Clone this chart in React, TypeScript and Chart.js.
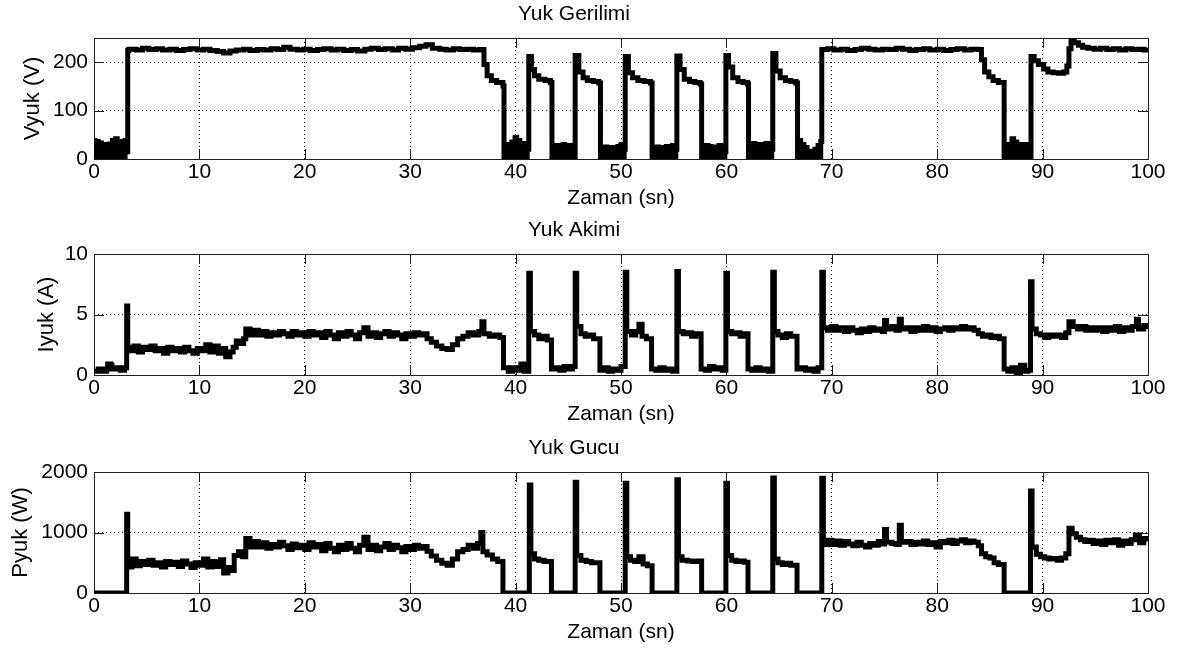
import React, { useEffect, useRef } from 'react';
import { Chart, registerables } from 'chart.js';

Chart.register(...registerables);

const FONT = "'Liberation Sans', Arial, Helvetica, sans-serif";

// ---------- shared axis ----------
const X_MIN = 0;
const X_MAX = 100;
const X_STEP = 10;
const X_LABEL = 'Zaman (sn)';

// ---------- Yuk Gerilimi (V) ----------
const V_TICKS = [0, 100, 200];
const tV = [
  0, 0.1, 0.25, 0.4, 0.55, 0.7, 0.85, 1.0, 1.15, 1.3, 1.45, 1.6, 1.75, 1.9, 2.05, 2.2, 2.35, 2.5, 2.65, 2.8, 2.95, 3.1,
  3.2, 3.3, 4.0, 4.6, 5.2, 5.9, 6.5, 7.2, 7.8, 8.5, 9.1, 9.8, 10.4, 11.0, 11.7, 12.3, 12.9, 13.5, 14.2, 14.8,
  15.5, 16.1, 16.8, 17.4, 18.0, 18.6, 19.3, 19.9, 20.5, 21.2, 21.8, 22.5, 23.1, 23.7, 24.4, 25.0, 25.7, 26.3, 27.0, 27.6,
  28.3, 28.9, 29.6, 30.2, 30.9, 31.5, 32.1, 32.8, 33.4, 34.1, 34.7, 35.4, 36.0, 36.6,
  37.0, 37.3, 37.7, 38.2, 38.8,
  38.9, 39.05, 39.2, 39.35, 39.5, 39.65, 39.8, 39.95, 40.1, 40.25, 40.4, 40.55, 40.7, 40.85, 41.0, 41.1,
  41.25, 41.5, 41.8, 42.2, 42.8, 43.3,
  43.45, 43.6, 43.75, 43.9, 44.05, 44.2, 44.35, 44.5, 44.65, 44.8, 44.95, 45.1, 45.25, 45.4, 45.55,
  45.65, 46.0, 46.4, 46.8, 47.4, 47.9,
  48.05, 48.2, 48.35, 48.5, 48.65, 48.8, 48.95, 49.1, 49.25, 49.4, 49.55, 49.7, 49.85, 50.0, 50.15, 50.3,
  50.4, 50.7, 51.1, 51.6, 52.2, 52.8,
  52.95, 53.1, 53.25, 53.4, 53.55, 53.7, 53.85, 54.0, 54.15, 54.3, 54.45, 54.6, 54.75, 54.9, 55.05, 55.2,
  55.3, 55.6, 56.0, 56.5, 57.0, 57.5,
  57.65, 57.8, 57.95, 58.1, 58.25, 58.4, 58.55, 58.7, 58.85, 59.0, 59.15, 59.3, 59.45, 59.6, 59.75, 59.85,
  59.95, 60.2, 60.6, 61.1, 61.6, 62.0,
  62.1, 62.25, 62.4, 62.55, 62.7, 62.85, 63.0, 63.15, 63.3, 63.45, 63.6, 63.75, 63.9, 64.05, 64.2, 64.3,
  64.4, 64.7, 65.1, 65.6, 66.1, 66.6,
  66.75, 66.9, 67.05, 67.2, 67.35, 67.5, 67.65, 67.8, 67.95, 68.1, 68.25, 68.4, 68.55, 68.7, 68.85, 68.95,
  69.05, 69.6, 70.2, 70.9, 71.5, 72.2, 72.8, 73.5, 74.1, 74.8, 75.4, 76.1, 76.7, 77.4, 78.0, 78.7, 79.3, 80.0, 80.6, 81.3, 81.9, 82.6, 83.2, 83.9,
  84.2, 84.5, 84.9, 85.3, 85.8,
  86.35, 86.5, 86.65, 86.8, 86.95, 87.1, 87.25, 87.4, 87.55, 87.7, 87.85, 88.0, 88.15, 88.3, 88.45, 88.6, 88.75,
  88.9, 89.2, 89.6, 90.1, 90.5, 91.0, 91.5, 92.0, 92.3, 92.5, 92.7, 93.0, 93.4, 93.8, 94.3, 94.9, 95.5, 96.1, 96.7, 97.3, 97.9, 98.5, 99.1, 99.6, 100,
];
const vV = [
  38, 0, 36, 2, 33, 0, 30, 0, 29, 1, 31, 0, 38, 0, 42, 0, 36, 2, 30, 0, 38, 15,
  224, 227, 225, 229, 226, 228, 225, 227, 224, 226, 228, 225, 227, 224, 222, 219, 223, 225, 227, 224,
  226, 225, 228, 226, 231, 227, 225, 227, 224, 226, 228, 225, 227, 224, 226, 223, 227, 229, 226, 228,
  225, 229, 227, 230, 233, 236, 229, 227, 225, 228, 226, 227, 225, 226,
  195, 172, 162, 158, 151,
  0, 30, 0, 28, 2, 35, 0, 45, 0, 38, 0, 30, 2, 32, 0, 20,
  212, 185, 172, 165, 162, 158,
  0, 25, 0, 28, 2, 25, 0, 30, 0, 26, 0, 28, 0, 25, 5,
  214, 180, 168, 162, 160, 157,
  0, 22, 0, 25, 2, 20, 0, 24, 0, 22, 2, 26, 0, 30, 0, 20,
  212, 178, 168, 162, 160, 157,
  0, 22, 0, 25, 2, 24, 0, 20, 0, 26, 2, 25, 0, 28, 0, 20,
  213, 185, 165, 160, 158, 155,
  0, 24, 0, 28, 2, 26, 0, 22, 0, 25, 2, 28, 0, 25, 0, 15,
  214, 190, 168, 160, 158, 155,
  0, 30, 0, 32, 2, 30, 0, 28, 0, 30, 2, 32, 0, 30, 0, 20,
  218, 182, 168, 162, 160, 157,
  0, 38, 0, 30, 0, 24, 0, 16, 0, 15, 0, 20, 0, 28, 0, 36,
  226, 228, 225, 227, 224, 226, 229, 227, 225, 227, 226, 229, 227, 224, 226, 228, 225, 227, 224, 226, 228, 225, 227, 226,
  205, 180, 170, 162, 158,
  0, 25, 0, 30, 2, 42, 0, 35, 0, 28, 2, 30, 0, 26, 0, 30, 5,
  212, 203, 195, 186, 180, 178, 177, 180, 192, 228, 246, 240, 235, 231, 229, 227, 229, 226, 228, 225, 228, 226, 227, 225, 226,
];

// ---------- Yuk Akimi (I) ----------
const I_TICKS = [0, 5, 10];
const tI = [
  0, 0.4, 0.8, 1.2, 1.3, 1.6, 1.7, 2.1, 2.5, 2.9, 3.1, 3.2,
  3.5, 3.8, 4.2, 4.6, 5.0, 5.4, 5.8, 6.2, 6.6, 7.0, 7.4, 7.8, 8.2, 8.6, 9.0, 9.4, 9.8, 10.2, 10.6, 11.0,
  11.4, 11.8, 12.2, 12.5, 12.9, 13.2, 13.5, 13.9, 14.2, 14.4, 14.8, 15.2, 15.6, 16.0, 16.4, 16.8, 17.2, 17.6, 18.0, 18.4,
  18.8, 19.2, 19.6, 20.0, 20.4, 20.8, 21.2, 21.6, 22.0, 22.4, 22.8, 23.2, 23.6, 24.0, 24.4, 24.8, 25.2, 25.6, 26.0, 26.4,
  26.8, 27.2, 27.6, 28.0, 28.4, 28.8, 29.2, 29.6, 30.0, 30.4, 30.8, 31.2, 31.6, 32.0, 32.5, 33.0, 33.5, 34.0, 34.5, 35.0,
  35.5, 36.0, 36.5, 36.8, 37.0, 37.5, 38.0, 38.5, 38.85,
  39.3, 39.7, 40.1, 40.5, 40.8, 41.25, 41.4, 41.8, 42.2, 42.6, 43.0, 43.4,
  43.8, 44.2, 44.6, 45.0, 45.4, 45.65, 45.8, 46.2, 46.6, 47.0, 47.4, 48.0,
  48.4, 48.8, 49.2, 49.6, 50.0, 50.4, 50.55, 51.0, 51.4, 51.7, 52.0, 52.4, 52.9,
  53.3, 53.7, 54.1, 54.5, 54.9, 55.3, 55.45, 55.9, 56.3, 56.7, 57.1, 57.6,
  58.0, 58.4, 58.8, 59.2, 59.6, 59.95, 60.1, 60.5, 60.9, 61.3, 61.7, 62.05,
  62.4, 62.8, 63.2, 63.6, 64.0, 64.4, 64.55, 64.9, 65.3, 65.7, 66.1, 66.7,
  67.1, 67.5, 67.9, 68.3, 68.7, 69.05, 69.2, 69.6, 70.0, 70.4, 70.8, 71.2, 71.6, 72.0, 72.4, 72.8, 73.2, 73.6, 74.0, 74.4,
  74.8, 75.0, 75.2, 75.7, 76.1, 76.4, 76.6, 77.1, 77.5, 77.9, 78.3, 78.7, 79.1, 79.5, 79.9, 80.3, 80.7, 81.1, 81.5, 81.9,
  82.3, 82.7, 83.1, 83.5, 83.9, 84.3, 84.7, 85.1, 85.5, 85.9, 86.35,
  86.7, 87.1, 87.5, 87.9, 88.3, 88.6, 88.85, 89.0, 89.4, 89.8, 90.2, 90.6, 91.0, 91.4, 91.8, 92.2, 92.5, 92.9, 93.3, 93.7,
  94.1, 94.5, 94.9, 95.3, 95.7, 96.1, 96.5, 96.9, 97.3, 97.7, 98.1, 98.5, 98.9, 99.1, 99.6, 100,
];
const vI = [
  0.3, 0.5, 0.3, 0.5, 0.9, 0.8, 0.5, 0.6, 0.4, 0.6, 5.7, 2.3,
  2.0, 2.4, 1.9, 2.3, 2.1, 2.4, 2.0, 2.2, 1.8, 2.3, 2.0, 2.2, 1.9, 2.3, 2.0, 1.8, 2.2, 2.0, 2.5, 1.9,
  2.4, 1.8, 2.2, 1.5, 1.9, 2.3, 2.8, 2.6, 3.0, 3.8, 3.3, 3.7, 3.3, 3.6, 3.2, 3.5, 3.3, 3.6, 3.4, 3.2,
  3.6, 3.3, 3.5, 3.2, 3.6, 3.3, 3.5, 3.1, 3.6, 3.3, 3.0, 3.5, 3.2, 3.6, 3.3, 3.0, 3.5, 3.9, 3.2, 3.5,
  3.1, 3.4, 3.6, 3.2, 3.5, 3.3, 3.0, 3.4, 3.2, 3.5, 3.3, 3.4, 3.0, 2.7, 2.4, 2.2, 2.1, 2.5, 3.0, 3.2,
  3.5, 3.3, 3.6, 4.4, 3.4, 3.2, 3.3, 3.1, 0.6,
  0.3, 0.6, 0.4, 0.9, 0.3, 8.4, 3.6, 3.3, 3.0, 3.2, 2.9, 0.5,
  0.6, 0.4, 0.7, 0.5, 0.7, 8.4, 4.0, 3.4, 3.2, 3.3, 3.0, 0.4,
  0.6, 0.3, 0.5, 0.4, 0.7, 8.5, 3.6, 3.3, 3.6, 4.2, 3.2, 3.0, 0.5,
  0.4, 0.6, 0.4, 0.5, 0.3, 8.55, 3.6, 3.4, 3.5, 3.2, 3.4, 0.5,
  0.4, 0.7, 0.5, 0.6, 0.4, 8.4, 3.6, 3.4, 3.5, 3.2, 3.4, 0.5,
  0.4, 0.6, 0.4, 0.5, 0.3, 8.5, 3.6, 3.3, 3.1, 3.4, 3.2, 0.5,
  0.6, 0.4, 0.5, 0.3, 0.6, 8.5, 3.9, 3.7, 4.0, 3.7, 3.9, 3.6, 3.9, 3.7, 3.5, 3.8, 3.6, 3.9, 3.7, 3.8,
  3.6, 4.5, 3.8, 4.0, 3.7, 4.6, 3.8, 3.9, 3.6, 3.9, 3.7, 4.0, 3.7, 3.9, 3.6, 3.8, 3.9, 3.7, 3.9, 3.8,
  4.0, 3.8, 3.9, 3.7, 3.4, 3.2, 3.3, 3.1, 3.2, 3.0, 0.5,
  0.3, 0.6, 0.2, 0.8, 0.3, 0.4, 7.7, 3.8, 3.4, 3.3, 3.1, 3.3, 3.2, 3.3, 3.1, 3.5, 4.4, 4.0, 3.8, 4.0,
  3.7, 3.9, 3.7, 3.9, 3.6, 3.9, 3.7, 4.0, 3.6, 3.9, 3.7, 4.0, 4.6, 3.8, 4.1, 3.8,
];

// ---------- Yuk Gucu (P) ----------
const P_TICKS = [0, 1000, 2000];
const tP = [
  0, 3.1, 3.2, 3.6, 4.0, 4.4, 4.8, 5.2, 5.6, 6.0, 6.4, 6.8, 7.2, 7.6, 8.0, 8.4, 8.8, 9.2, 9.6, 10.0,
  10.4, 10.8, 11.2, 11.6, 12.0, 12.3, 12.7, 13.0, 13.3, 13.7, 14.1, 14.4, 14.8, 15.2, 15.6, 16.0, 16.4, 16.8, 17.2, 17.6,
  18.0, 18.4, 18.8, 19.2, 19.6, 20.0, 20.4, 20.8, 21.2, 21.6, 22.0, 22.4, 22.8, 23.2, 23.6, 24.0, 24.4, 24.8, 25.2, 25.6,
  26.0, 26.4, 26.8, 27.2, 27.6, 28.0, 28.4, 28.8, 29.2, 29.6, 30.0, 30.4, 30.8, 31.2, 31.6, 32.0, 32.5, 33.0, 33.5, 34.0,
  34.5, 35.0, 35.5, 36.0, 36.4, 36.7, 36.9, 37.3, 37.8, 38.3, 38.8, 41.3, 41.45, 41.8, 42.2, 42.7, 43.4,
  45.65, 45.8, 46.2, 46.7, 47.2, 48.0,
  50.4, 50.55, 50.9, 51.3, 51.7, 52.1, 52.5, 52.95,
  55.3, 55.45, 55.8, 56.3, 56.8, 57.3, 57.65,
  59.95, 60.1, 60.5, 60.9, 61.3, 61.7, 62.05,
  64.4, 64.55, 64.9, 65.3, 65.7, 66.1, 66.7,
  69.05, 69.2, 69.6, 70.0, 70.4, 70.8, 71.2, 71.6, 72.0, 72.4, 72.8, 73.2, 73.6, 74.0, 74.4, 74.8, 75.0, 75.2, 75.7, 76.1,
  76.4, 76.6, 77.1, 77.5, 77.9, 78.3, 78.7, 79.1, 79.5, 79.9, 80.3, 80.7, 81.1, 81.5, 81.9, 82.3, 82.7, 83.1, 83.5, 83.9,
  84.2, 84.6, 85.0, 85.4, 85.8, 86.35, 88.85, 89.0, 89.4, 89.8, 90.2, 90.6, 91.0, 91.4, 91.8, 92.2, 92.5, 92.8, 93.2, 93.6,
  94.0, 94.4, 94.8, 95.2, 95.6, 96.0, 96.4, 96.8, 97.2, 97.6, 98.0, 98.4, 98.8, 99.2, 99.6, 100,
];
const vP = [
  0, 1300, 430, 560, 450, 520, 470, 540, 460, 500, 430, 520, 470, 510, 440, 530, 480, 420, 500, 460,
  560, 430, 520, 440, 550, 330, 420, 370, 620, 680, 600, 900, 760, 850, 760, 830, 740, 800, 760, 840,
  780, 720, 810, 750, 790, 720, 830, 760, 800, 700, 820, 740, 680, 790, 720, 820, 740, 680, 790, 920,
  720, 790, 700, 760, 820, 720, 790, 750, 680, 770, 720, 790, 740, 770, 690, 610, 540, 490, 460, 560,
  680, 720, 790, 740, 820, 1000, 680, 630, 560, 520, 0, 1785, 650, 560, 540, 520, 0,
  1830, 620, 540, 520, 500, 0,
  1815, 600, 540, 520, 600, 480, 450, 0,
  1870, 600, 540, 530, 520, 530, 0,
  1815, 620, 540, 520, 530, 510, 0,
  1900, 560, 500, 470, 490, 460, 0,
  1895, 800, 870, 800, 860, 790, 850, 810, 780, 840, 790, 760, 820, 790, 850, 810, 1050, 840, 820, 800,
  1120, 840, 850, 800, 840, 810, 860, 800, 830, 760, 850, 830, 870, 820, 860, 880, 830, 860, 840, 780,
  650, 600, 580, 500, 470, 0, 1685, 760, 640, 600, 580, 560, 570, 540, 580, 650, 1070, 980, 920, 880,
  850, 870, 820, 860, 800, 870, 830, 880, 790, 860, 820, 880, 960, 830, 900, 850,
];

const framePlugin = {
  id: 'matlabFrame',
  beforeDatasetsDraw(chart: any) {
    const { ctx, chartArea: a, scales } = chart;
    ctx.save();
    ctx.strokeStyle = '#1e1e1e';
    ctx.lineWidth = 1;
    ctx.strokeRect(a.left + 0.5, a.top + 0.5, a.right - a.left, a.bottom - a.top);
    ctx.beginPath();
    const tl = 10;
    scales.x.ticks.forEach((t: any) => {
      const px = Math.round(scales.x.getPixelForValue(t.value)) + 0.5;
      ctx.moveTo(px, a.bottom);
      ctx.lineTo(px, a.bottom - tl);
      ctx.moveTo(px, a.top);
      ctx.lineTo(px, a.top + tl);
    });
    scales.y.ticks.forEach((t: any) => {
      const py = Math.round(scales.y.getPixelForValue(t.value)) + 0.5;
      ctx.moveTo(a.left, py);
      ctx.lineTo(a.left + tl, py);
      ctx.moveTo(a.right, py);
      ctx.lineTo(a.right - tl, py);
    });
    ctx.stroke();
    ctx.restore();
  },
};

type PanelProps = {
  title: string;
  yLabel: string;
  times: number[];
  values: number[];
  yMax: number;
  yTicks: number[];
  top: number;
  height: number;
  yTitleOffset: number;
};

function Panel({ title, yLabel, times, values, yMax, yTicks, top, height, yTitleOffset }: PanelProps) {
  const ref = useRef<HTMLCanvasElement | null>(null);
  useEffect(() => {
    const canvas = ref.current;
    if (!canvas) return;
    const plotBottom = 159;
    const chart = new Chart(canvas, {
      type: 'line',
      data: {
        datasets: [
          {
            data: times.map((x, i) => ({ x, y: values[i] })),
            borderColor: '#000',
            backgroundColor: '#000',
            borderWidth: 5,
            pointRadius: 0,
            stepped: 'before',
            fill: false,
            tension: 0,
          },
        ],
      },
      options: {
        animation: false,
        responsive: false,
        devicePixelRatio: 1,
        layout: { padding: { left: 0, right: 30, top: 0, bottom: 0 } },
        plugins: {
          legend: { display: false },
          tooltip: { enabled: false },
          title: {
            display: true,
            text: title,
            color: '#000',
            font: { family: FONT, size: 21, weight: 'normal', lineHeight: 1.2 },
            padding: { top: 1.5, bottom: 11.3 },
          },
        },
        scales: {
          x: {
            type: 'linear',
            min: X_MIN,
            max: X_MAX,
            ticks: {
              stepSize: X_STEP,
              color: '#000',
              font: { family: FONT, size: 21, lineHeight: 1 },
              padding: 3,
              maxRotation: 0,
              autoSkip: false,
              callback: (v: any) => String(v),
            },
            grid: { color: '#000', lineWidth: 1, drawTicks: false },
            border: { display: false, dash: [1, 3] },
            title: {
              display: true,
              text: X_LABEL,
              color: '#000',
              font: { family: FONT, size: 21, lineHeight: 1 },
              padding: { top: 0, bottom: height - 198 - 10.5 },
            },
            afterFit: (s: any) => {
              s.height = height - plotBottom;
            },
          },
          y: {
            type: 'linear',
            min: 0,
            max: yMax,
            afterBuildTicks: (s: any) => {
              s.ticks = yTicks.map((v) => ({ value: v }));
            },
            ticks: {
              color: '#000',
              font: { family: FONT, size: 21, lineHeight: 1 },
              padding: 6,
              callback: (v: any) => String(v),
            },
            grid: { color: '#000', lineWidth: 1, drawTicks: false },
            border: { display: false, dash: [1, 3] },
            title: {
              display: true,
              text: yLabel,
              color: '#000',
              font: { family: FONT, size: 22, lineHeight: 1 },
              padding: { top: yTitleOffset - 11, bottom: 0 },
            },
            afterFit: (s: any) => {
              s.width = 94;
            },
          },
        },
      },
      plugins: [framePlugin],
    } as any);
    return () => chart.destroy();
  }, [title, yLabel, times, values, yMax, yTicks, height, yTitleOffset]);

  return (
    <canvas
      ref={ref}
      width={1178}
      height={height}
      style={{ position: 'absolute', left: 0, top, width: 1178, height }}
    />
  );
}

export default function App() {
  return (
    <div
      style={{
        position: 'absolute',
        left: 0,
        top: 0,
        width: 1178,
        height: 654,
        background: '#fff',
        overflow: 'hidden',
      }}
    >
      <Panel title="Yuk Gerilimi" yLabel="Vyuk (V)" times={tV} values={vV} yMax={250} yTicks={V_TICKS} top={0} height={218} yTitleOffset={32.5} />
      <Panel title="Yuk Akimi" yLabel="Iyuk (A)" times={tI} values={vI} yMax={10} yTicks={I_TICKS} top={216} height={218} yTitleOffset={47} />
      <Panel title="Yuk Gucu" yLabel="Pyuk (W)" times={tP} values={vP} yMax={2000} yTicks={P_TICKS} top={434} height={220} yTitleOffset={21} />
    </div>
  );
}
